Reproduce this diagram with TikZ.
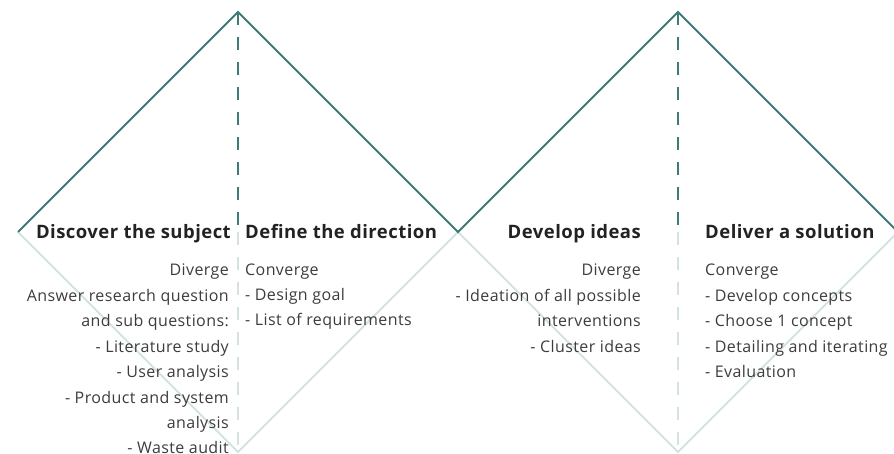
\documentclass[tikz,border=0pt]{standalone}
\usepackage{fontspec}
\setmainfont{Open Sans}
\newfontfamily\bodyfont[LetterSpace=2.5]{Open Sans}
\newfontfamily\titlefont[LetterSpace=2.5]{Open Sans Bold}
\definecolor{teal1}{HTML}{3E7A78}
\definecolor{pale1}{HTML}{D3E3E0}
\definecolor{titlec}{HTML}{222222}
\definecolor{bodyc}{HTML}{3C3C3C}
\begin{document}
\begin{tikzpicture}[x=1pt,y=-1pt,
  upper/.style={draw=teal1,line width=2pt,line join=miter},
  lower/.style={draw=pale1,line width=2pt,line join=miter},
  updash/.style={draw=teal1,line width=1.4pt,dash pattern=on 13pt off 12pt},
  lowdash/.style={draw=pale1,line width=1.4pt,dash pattern=on 13pt off 12pt},
  ttl/.style={inner sep=0pt,font=\titlefont\fontsize{18.5}{22}\selectfont,text=titlec},
  bodyR/.style={inner sep=0pt,anchor=base east,font=\bodyfont\fontsize{16}{18}\selectfont,text=bodyc},
  bodyL/.style={inner sep=0pt,anchor=base west,font=\bodyfont\fontsize{16}{18}\selectfont,text=bodyc}]
\useasboundingbox (0,0) rectangle (894,454);
\begin{scope}
\clip (0,0) rectangle (894,454);
% vertices
\coordinate (L1) at (18,232);
\coordinate (T1) at (238,12);
\coordinate (B1) at (238,452);
\coordinate (M) at (458,232);
\coordinate (T2) at (678,12);
\coordinate (B2) at (678,452);
\coordinate (R2) at (898,232);
\coordinate (C1) at (238,232);
\coordinate (C2) at (678,232);
% lower halves
\draw[lower] (L1) -- (B1) -- (M) -- (B2) -- (R2);
\draw[lowdash] (C1) -- (B1);
\draw[lowdash] (C2) -- (B2);
% upper halves
\draw[upper] (L1) -- (T1) -- (M) -- (T2) -- (R2);
\draw[updash] (T1) -- (C1);
\draw[updash] (T2) -- (C2);
\end{scope}
% titles
\node[ttl,anchor=base east] (t1) at (231,238.5) {Discover the subject};
\node[ttl,anchor=base west] (t2) at (245,238.5) {Define the direction};
\node[ttl,anchor=base east] (t3) at (641,238.5) {Develop ideas};
\node[ttl,anchor=base west] (t4) at (705,238.5) {Deliver a solution};
% body texts
\foreach \t [count=\i] in {{Diverge},{Answer research question},{and sub questions:},{- Literature study},{- User analysis},{- Product and system\hspace{5pt}},{analysis},{- Waste audit}}
  \node[bodyR] (a\i) at (229,{276+(\i-1)*25.4}) {\t};
\foreach \t [count=\i] in {{Converge},{- Design goal},{- List of requirements}}
  \node[bodyL] (b\i) at (245,{276+(\i-1)*24.6}) {\t};
\foreach \t [count=\i] in {{Diverge},{- Ideation of all possible},{interventions},{- Cluster ideas}}
  \node[bodyR] (c\i) at (641,{276+(\i-1)*25.4}) {\t};
\foreach \t [count=\i] in {{Converge},{- Develop concepts},{- Choose 1 concept},{- Detailing and iterating},{- Evaluation}}
  \node[bodyL] (d\i) at (705,{276+(\i-1)*25.4}) {\t};
\end{tikzpicture}
\end{document}
